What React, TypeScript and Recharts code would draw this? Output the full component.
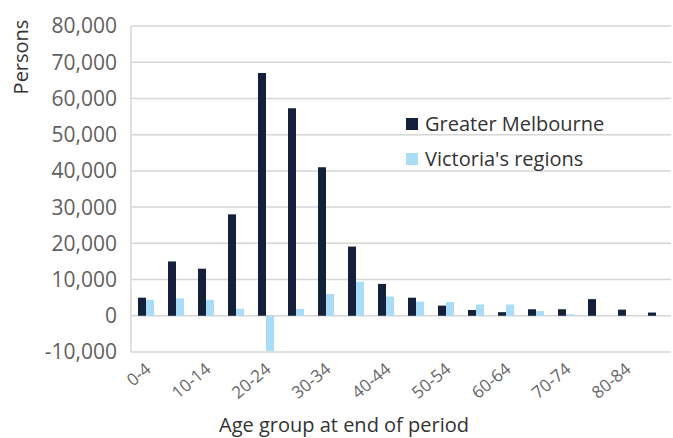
import { BarChart, Bar, XAxis, YAxis, CartesianGrid, Legend, Label } from 'recharts';

if (typeof document !== 'undefined') document.body.style.margin = '0';

const ageGroups = ['0-4', '5-9', '10-14', '15-19', '20-24', '25-29', '30-34', '35-39', '40-44', '45-49', '50-54', '55-59', '60-64', '65-69', '70-74', '75-79', '80-84', '85+'];
const greaterMelbourne = [5000, 15000, 13000, 28000, 67000, 57300, 41000, 19100, 8800, 5000, 2800, 1600, 1000, 1800, 1800, 4600, 1700, 900];
const victoriasRegions = [4400, 4800, 4400, 1900, -9700, 1900, 6000, 9400, 5300, 3900, 3800, 3100, 3100, 1300, 400, 0, 0, 0];
const yTicks = [-10000, 0, 10000, 20000, 30000, 40000, 50000, 60000, 70000, 80000];

const data = ageGroups.map((age, i) => ({
  age,
  melbourne: greaterMelbourne[i],
  regions: victoriasRegions[i],
}));

const FONT = '"Open Sans", "DejaVu Sans", sans-serif';
const DARK = '#15203a';
const LIGHT = '#a9dcf6';

function AgeTick({ x, y, payload }: any) {
  const ax = x + 6;
  const ay = y + 17;
  return (
    <text x={ax} y={ay} transform={`rotate(-40 ${ax} ${ay})`} textAnchor="end" fontSize={17} fill="#666" fontFamily={FONT}>
      {payload.value}
    </text>
  );
}

function LegendBox() {
  const items = [
    { label: 'Greater Melbourne', color: DARK },
    { label: "Victoria's regions", color: LIGHT },
  ];
  return (
    <div style={{ fontFamily: FONT, fontSize: 20, color: '#333' }}>
      {items.map((it) => (
        <div key={it.label} style={{ display: 'flex', alignItems: 'center', height: 35 }}>
          <span style={{ display: 'inline-block', width: 12, height: 12, background: it.color, marginRight: 7 }} />
          {it.label}
        </div>
      ))}
    </div>
  );
}

export default function App() {
  return (
    <div style={{ width: 673, height: 438, background: '#fff' }}>
      <BarChart
        width={673}
        height={438}
        data={data}
        margin={{ top: 26, right: 2, left: 0, bottom: 0 }}
        barSize={8}
        barGap={0}
      >
        <CartesianGrid vertical={false} stroke="#d6d6d6" strokeWidth={1.5} />
        <XAxis
          dataKey="age"
          height={86}
          interval={1}
          axisLine={false}
          tickLine={false}
          tickSize={0}
          tick={<AgeTick />}
        >
          <Label
            content={() => (
              <text x={344} y={432} textAnchor="middle" fontSize={20} fill="#333" fontFamily={FONT}>
                Age group at end of period
              </text>
            )}
          />
        </XAxis>
        <YAxis
          width={131}
          domain={[-10000, 80000]}
          ticks={yTicks}
          interval={0}
          axisLine={{ stroke: '#d6d6d6', strokeWidth: 1.5 }}
          tickLine={false}
          tickSize={0}
          tickMargin={14}
          tick={{ fontSize: 21, fill: '#5f5f5f', fontFamily: FONT }}
          tickFormatter={(v: number) => v.toLocaleString('en-US')}
        >
          <Label
            content={() => (
              <text x={28} y={57} transform="rotate(-90 28 57)" textAnchor="middle" fontSize={20} fill="#333" fontFamily={FONT}>
                Persons
              </text>
            )}
          />
        </YAxis>
        <Legend
          layout="horizontal"
          verticalAlign="middle"
          align="center"
          wrapperStyle={{ left: 406, top: 106, width: 240 }}
          content={<LegendBox />}
        />
        <Bar dataKey="melbourne" name="Greater Melbourne" fill={DARK} isAnimationActive={false} />
        <Bar dataKey="regions" name="Victoria's regions" fill={LIGHT} isAnimationActive={false} />
      </BarChart>
    </div>
  );
}
